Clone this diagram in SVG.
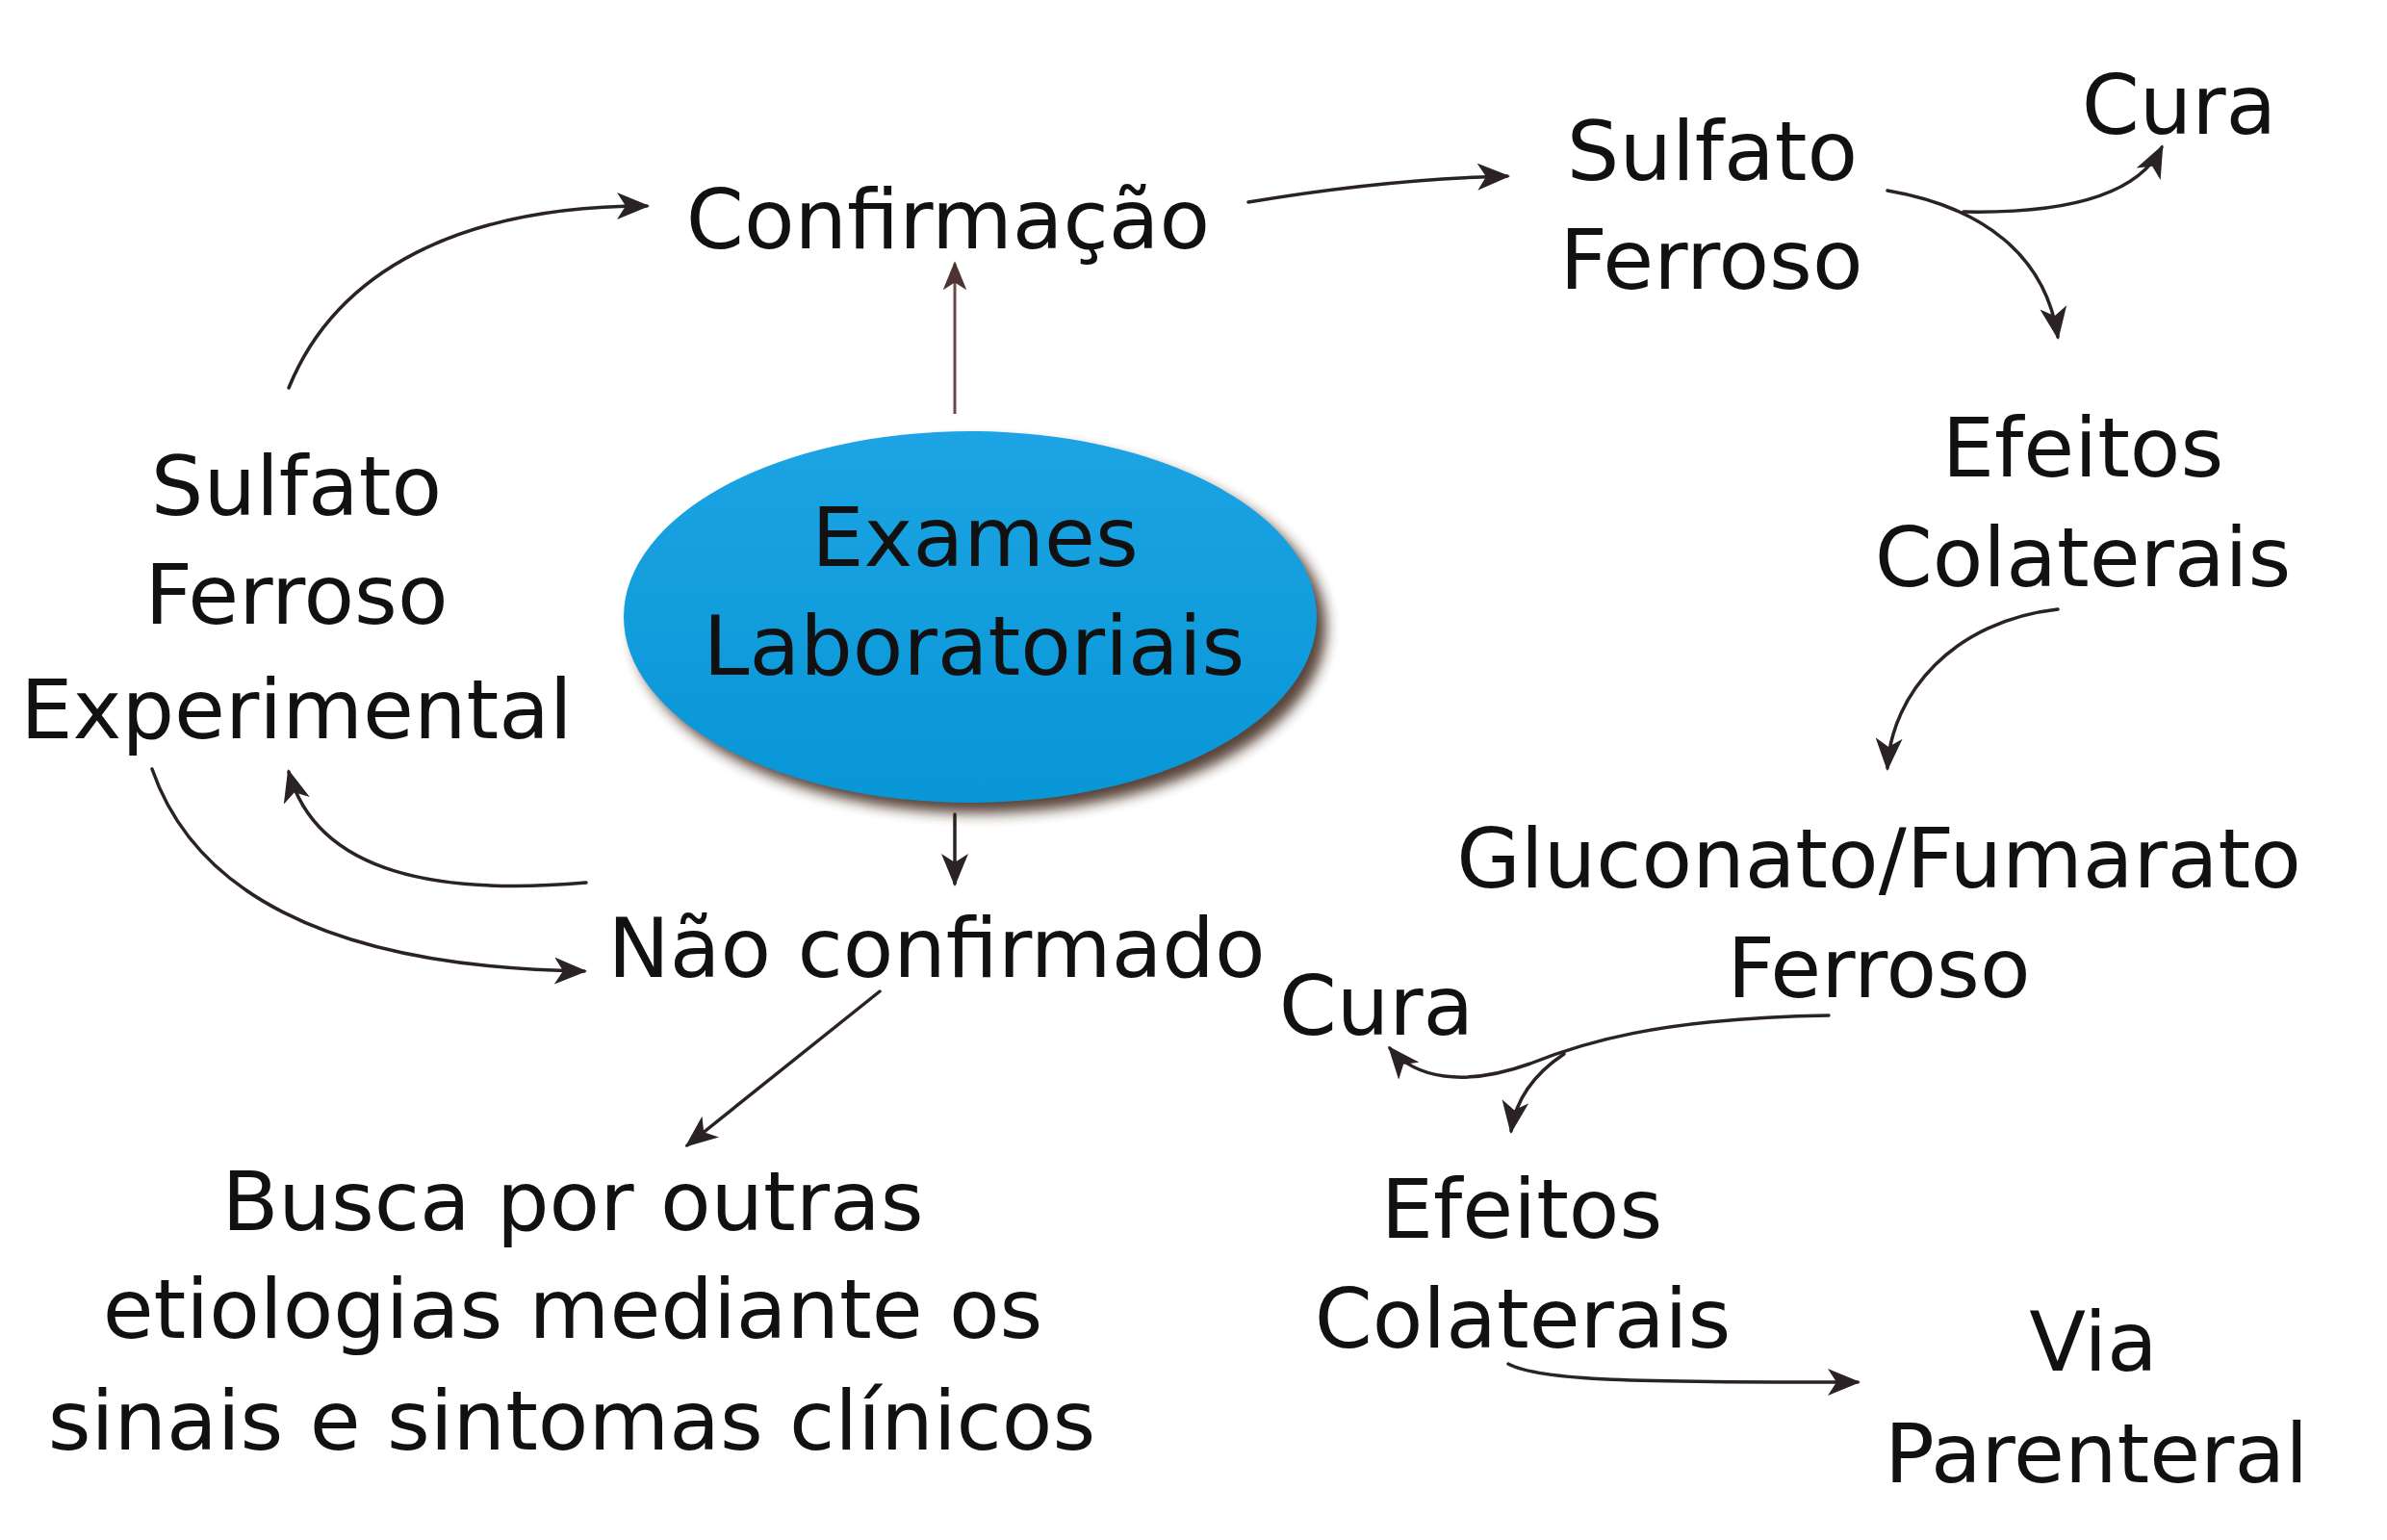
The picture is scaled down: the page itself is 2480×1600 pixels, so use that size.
<svg xmlns="http://www.w3.org/2000/svg" width="2480" height="1600" viewBox="0 0 2480 1600">
  <defs>
    <linearGradient id="blue" x1="0" y1="0" x2="0" y2="1">
      <stop offset="0" stop-color="#1ca4e4"/>
      <stop offset="1" stop-color="#0896d6"/>
    </linearGradient>
    <filter id="shadow" x="-20%" y="-20%" width="140%" height="140%">
      <feGaussianBlur stdDeviation="7"/>
    </filter>
    <marker id="arr" viewBox="0 0 34 28" refX="31" refY="14" markerWidth="34" markerHeight="28" markerUnits="userSpaceOnUse" orient="auto">
      <path d="M0,0 L34,14 L0,28 L9,14 z" fill="#2b2323"/>
    </marker>
    <marker id="arrR" viewBox="0 0 34 28" refX="31" refY="14" markerWidth="30" markerHeight="26" markerUnits="userSpaceOnUse" orient="auto">
      <path d="M0,0 L34,14 L0,28 L9,14 z" fill="#4a3434"/>
    </marker>
    <style>
      text { font-family: "DejaVu Sans", "Noto Sans", sans-serif; font-size: 86px; fill: #111; text-anchor: middle; }
      .c { fill: none; stroke: #2b2323; stroke-width: 3.5; stroke-linecap: round; marker-end: url(#arr); }
      .cr { fill: none; stroke: #6e4848; stroke-width: 3; marker-end: url(#arrR); }
    </style>
  </defs>
  <rect width="2480" height="1600" fill="#fff"/>

  <g id="connectors">
    <path class="cr" d="M992 430 L992 274"/>
    <path class="c" d="M992 846 L992 918"/>
    <path class="c" d="M300 403 C350 280 480 214 672 214"/>
    <path class="c" d="M609 917 C460 930 330 910 300 802"/>
    <path class="c" d="M158 799 C200 920 330 1005 607 1009"/>
    <path class="c" d="M914 1030 L714 1190"/>
    <path class="c" d="M1297 210 Q1440 186 1566 183"/>
    <path class="c" d="M1961 198 C2060 215 2125 265 2138 350"/>
    <path class="c" d="M2040 220 C2140 222 2220 205 2246 153"/>
    <path class="c" d="M2138 633 C2030 645 1965 720 1961 798"/>
    <path class="c" d="M1900 1055 C1720 1058 1640 1085 1590 1105 C1520 1130 1470 1120 1444 1089"/>
    <path class="c" d="M1625 1095 C1595 1115 1575 1140 1570 1175"/>
    <path class="c" d="M1567 1417 C1600 1435 1700 1436 1930 1436"/>
  </g>

  <g id="exames">
    <ellipse cx="1018" cy="652" rx="360" ry="193" fill="#3a2418" filter="url(#shadow)" opacity="0.85"/>
    <ellipse cx="1008" cy="641" rx="360" ry="193" fill="url(#blue)"/>
    <text x="1013" y="588" font-size="88">Exames</text>
    <text x="1012" y="701" font-size="88">Laboratoriais</text>
  </g>
  <g id="confirmacao"><text x="985" y="258">Confirmação</text></g>
  <g id="nao-confirmado"><text x="973" y="1015">Não confirmado</text></g>
  <g id="sulfato-experimental">
    <text x="308" y="535">Sulfato</text>
    <text x="308" y="648">Ferroso</text>
    <text x="308" y="767">Experimental</text>
  </g>
  <g id="busca">
    <text x="595" y="1278">Busca por outras</text>
    <text x="595" y="1390">etiologias mediante os</text>
    <text x="594" y="1506">sinais e sintomas clínicos</text>
  </g>
  <g id="sulfato-ferroso">
    <text x="1779" y="187">Sulfato</text>
    <text x="1778" y="300">Ferroso</text>
  </g>
  <g id="cura-1"><text x="2264" y="139">Cura</text></g>
  <g id="efeitos-1">
    <text x="2164" y="495">Efeitos</text>
    <text x="2164" y="609">Colaterais</text>
  </g>
  <g id="gluconato">
    <text x="1952" y="922">Gluconato/Fumarato</text>
    <text x="1952" y="1036">Ferroso</text>
  </g>
  <g id="cura-2"><text x="1430" y="1075">Cura</text></g>
  <g id="efeitos-2">
    <text x="1581" y="1286">Efeitos</text>
    <text x="1582" y="1400">Colaterais</text>
  </g>
  <g id="via-parenteral">
    <text x="2175" y="1424">Via</text>
    <text x="2178" y="1540">Parenteral</text>
  </g>
</svg>
